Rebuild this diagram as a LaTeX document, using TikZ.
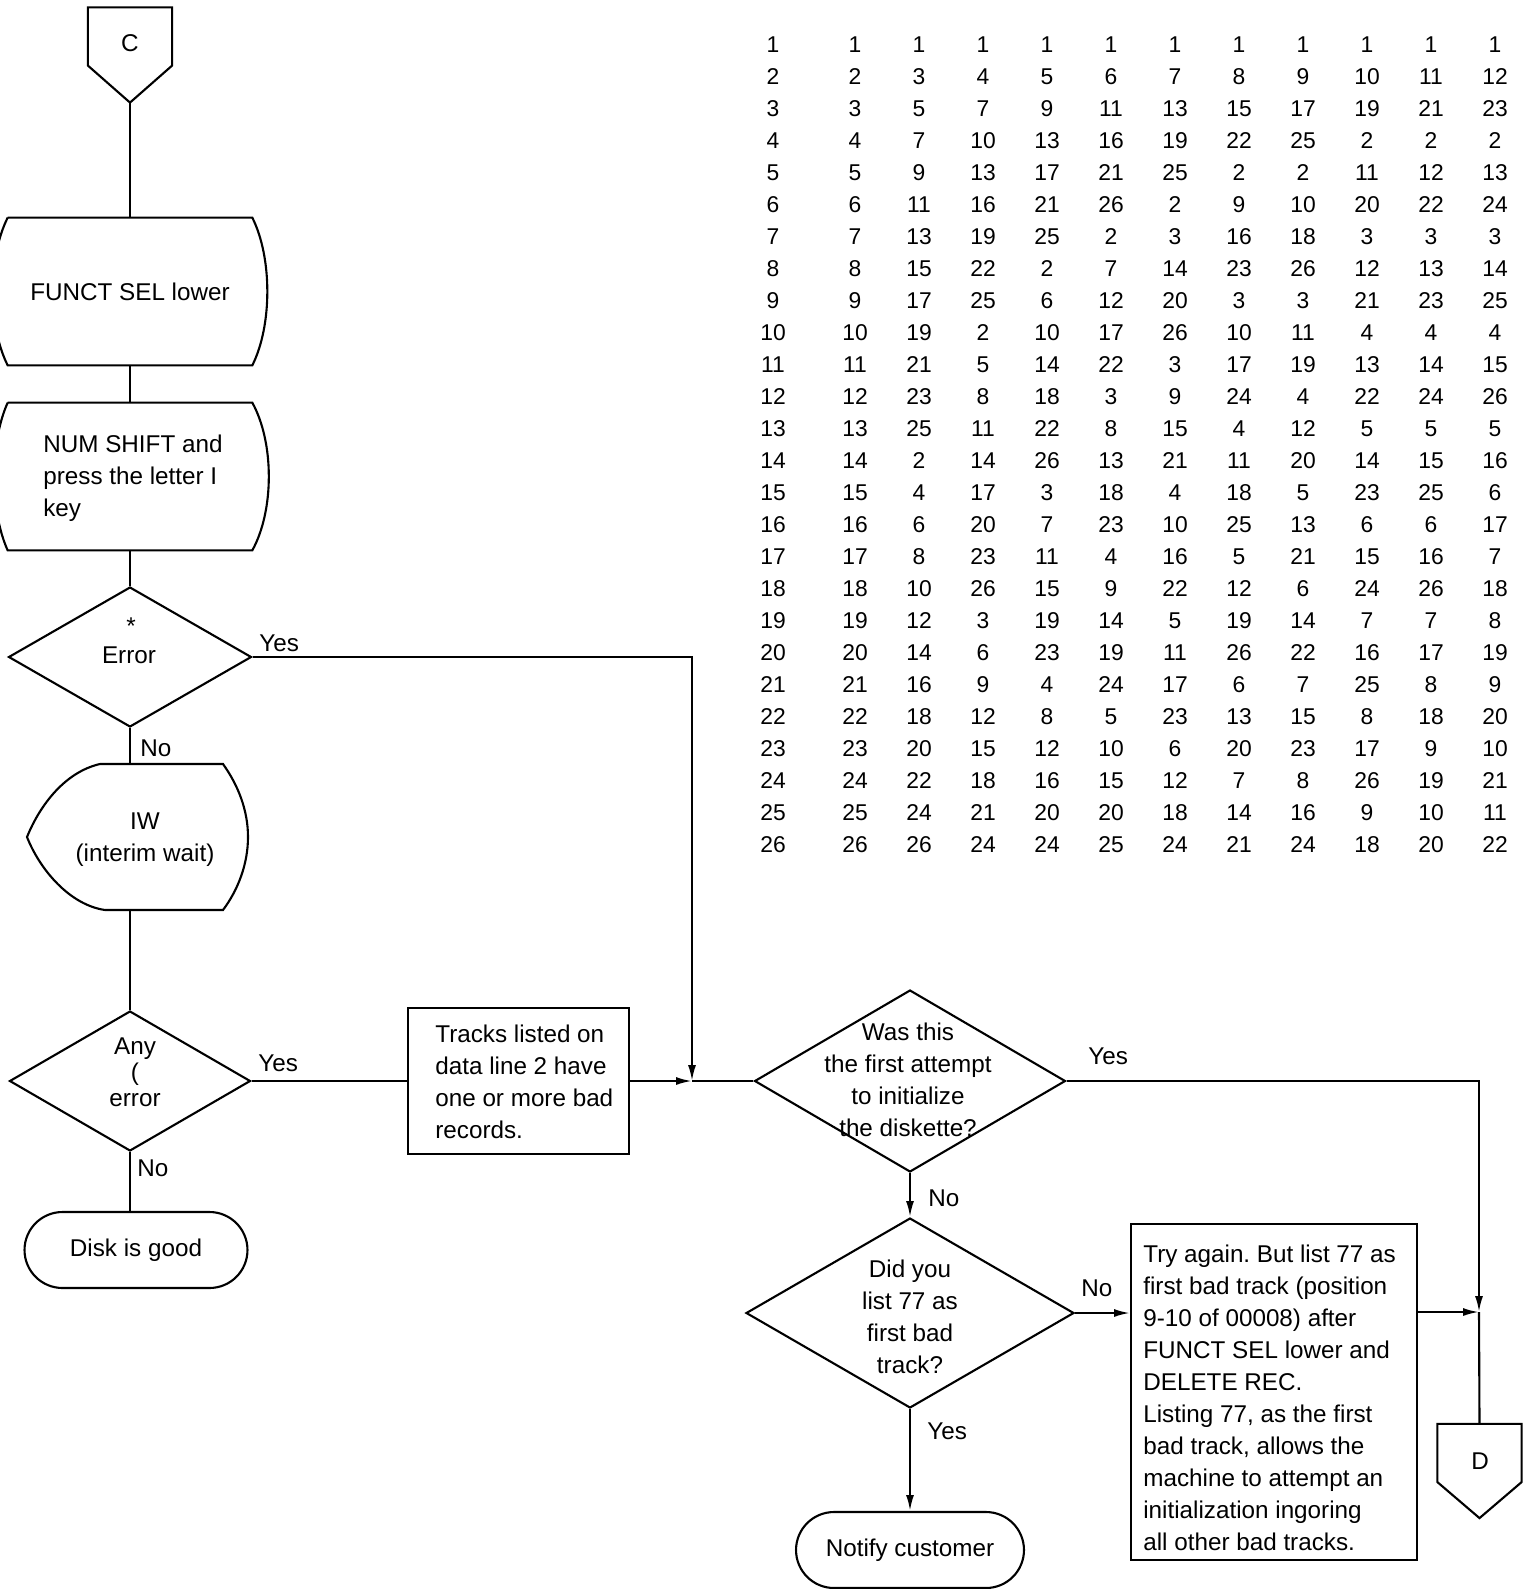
\documentclass[tikz,border=0pt]{standalone}
\usepackage{fontspec}
\setmainfont{Liberation Sans}
\usetikzlibrary{positioning, calc, shapes.geometric, arrows.meta}

\begin{document}
\frenchspacing
\begin{tikzpicture}[
        x=0.02cm, y=-0.02cm,
        every node/.style={font=\fontsize{13.8}{18.2}\selectfont},
        line/.style={line width=1.2pt},
        arr/.style={line width=1.2pt, -{Latex[length=9pt, width=4.5pt]}},
        manual/.style={inner sep=0pt, minimum width=4.88cm, minimum height=2.94cm},
        display/.style={inner sep=0pt, minimum width=3cm, minimum height=2.92cm},
        decision/.style={diamond, draw, line width=1.2pt, inner sep=0pt},
        process/.style={rectangle, draw, line width=1.2pt, inner sep=0pt},
        terminal/.style={rectangle, draw, line width=1.2pt, rounded corners=0.76cm, minimum height=1.52cm, inner sep=0pt},
        offpage/.style={inner sep=0pt, minimum width=1.67cm, minimum height=1.15cm},
        txt/.style={inner sep=0pt, align=center},
        txtl/.style={inner sep=0pt, align=left, anchor=west},
        lbl/.style={inner sep=0pt},
        num/.style={inner sep=0pt, font=\fontsize{13}{16}\selectfont}
    ]
    \useasboundingbox (0,0) rectangle (1524,1589);

    % left column
    \node[offpage] (cpage) at (130,36.5) {};
    \coordinate[below=0.74cm of cpage.south] (ctip);
    \draw[line] (cpage.north west) -- (cpage.north east) -- (cpage.south east) -- (ctip) -- (cpage.south west) -- cycle;
    \node[txt] (ctext) at (130,43) {C};

    \node[manual] (fsel) at (130,291.5) {FUNCT SEL lower};
    \draw[line] (fsel.north west) -- (fsel.north east) .. controls +(20,40) and +(20,-40) .. (fsel.south east) -- (fsel.south west) .. controls +(-20,-40) and +(-20,40) .. (fsel.north west);

    \node[manual] (numk) at (130,476.5) {};
    \draw[line] (numk.north west) -- (numk.north east) .. controls +(22,40) and +(22,-40) .. (numk.south east) -- (numk.south west) .. controls +(-18,-40) and +(-18,40) .. (numk.north west);
    \node[txtl] (numtext) at (43,478) {NUM SHIFT and\\press the letter I\\key};

    \node[decision, minimum width=4.86cm, minimum height=2.8cm] (err) at (130,657) {};
    \node[txt] (errtext) at (129,655) {Error};
    \node[txt] (errstar) at (131,626) {*};

    \node[display] (iw) at (130,837) {};
    \draw[line] (100,764) -- (223,764) .. controls (238,785) and (248,810) .. (248,837) .. controls (248,864) and (238,890) .. (223,910) -- (105,910) .. controls (70,905) and (40,870) .. (27,837) .. controls (40,805) and (65,772) .. (100,764);
    \node[txt] (iwtext) at (145,840) {IW\\(interim wait)};

    \node[decision, minimum width=4.82cm, minimum height=2.8cm] (any) at (130,1081) {};
    \node[txt, font=\fontsize{13.8}{14.8}\selectfont] (anytext) at (135,1072) {Any\\(\\error};

    \node[terminal, minimum width=4.46cm] (disk) at (136,1250) {Disk is good};

    % middle and right
    \node[process, minimum width=4.42cm, minimum height=2.92cm] (tracks) at (518.5,1081) {};
    \node[txtl] (trackstext) at (435,1082) {Tracks listed on\\data line 2 have\\one or more bad\\records.};

    \node[decision, minimum width=6.22cm, minimum height=3.64cm] (was) at (910,1081) {};
    \node[txt] (wastext) at (908,1080) {Was this\\the first attempt\\to initialize\\the diskette?};

    \node[decision, minimum width=6.56cm, minimum height=3.8cm] (did) at (910,1313) {};
    \node[txt] (didtext) at (910,1317) {Did you\\list 77 as\\first bad\\track?};

    \node[terminal, minimum width=4.56cm] (notify) at (910,1550) {Notify customer};

    \node[process, minimum width=5.72cm, minimum height=6.72cm] (try) at (1274,1392) {};
    \node[txtl] (trytext) at (1143,1398) {Try again. But list 77 as\\first bad track (position\\9-10 of 00008) after\\FUNCT SEL lower and\\DELETE REC.\\Listing 77, as the first\\bad track, allows the\\machine to attempt an\\initialization ingoring\\all other bad tracks.};

    \node[offpage] (dpage) at (1479.5,1453) {};
    \coordinate[below=0.72cm of dpage.south] (dtip);
    \draw[line] (dpage.north west) -- (dpage.north east) -- (dpage.south east) -- (dtip) -- (dpage.south west) -- cycle;
    \node[txt] (dtext) at (1480,1461) {D};

    % connectors
    \draw[line] (ctip) -- (fsel.north);
    \draw[line] (fsel.south) -- (numk.north);
    \draw[line] (numk.south) -- (err.north);
    \draw[line] (err.south) -- (iw.north);
    \draw[line] (iw.south) -- (any.north);
    \draw[line] (any.south) -- (any.south |- disk.north);

    \coordinate (jn1) at (692,1081);
    \draw[arr] (err.east) -| (jn1);
    \draw[line] (any.east) -- (tracks.west);
    \draw[arr] (tracks.east) -- (jn1);
    \draw[line] (jn1) -- (was.west);

    \coordinate (jn2) at (1479,1312);
    \draw[arr] (was.east) -| (jn2);
    \draw[line] (jn2) -- (dpage.north);
    \draw[arr] (jn2 -| try.east) -- (jn2);
    \draw[arr] (was.south) -- (did.north);
    \draw[arr] (did.east) -- (did.east -| try.west);
    \draw[arr] (did.south) -- (notify.north);

    % branch labels
    \node[lbl, above right=0.1cm and 0.13cm of err.east] (erryes) {Yes};
    \node[lbl, below right=0.22cm and 0.2cm of err.south] (errno) {No};
    \node[lbl, above right=0.18cm and 0.13cm of any.east] (anyyes) {Yes};
    \node[lbl, below right=0.14cm and 0.14cm of any.south] (anyno) {No};
    \node[lbl, above right=0.32cm and 0.43cm of was.east] (wasyes) {Yes};
    \node[lbl, below right=0.32cm and 0.36cm of was.south] (wasno) {No};
    \node[lbl, above right=0.32cm and 0.12cm of did.east] (didno) {No};
    \node[lbl, below right=0.26cm and 0.34cm of did.south] (didyes) {Yes};

    % table
    \foreach \rowvals [count=\ri] in {
        {1,1,1,1,1,1,1,1,1,1,1,1},
        {2,2,3,4,5,6,7,8,9,10,11,12},
        {3,3,5,7,9,11,13,15,17,19,21,23},
        {4,4,7,10,13,16,19,22,25,2,2,2},
        {5,5,9,13,17,21,25,2,2,11,12,13},
        {6,6,11,16,21,26,2,9,10,20,22,24},
        {7,7,13,19,25,2,3,16,18,3,3,3},
        {8,8,15,22,2,7,14,23,26,12,13,14},
        {9,9,17,25,6,12,20,3,3,21,23,25},
        {10,10,19,2,10,17,26,10,11,4,4,4},
        {11,11,21,5,14,22,3,17,19,13,14,15},
        {12,12,23,8,18,3,9,24,4,22,24,26},
        {13,13,25,11,22,8,15,4,12,5,5,5},
        {14,14,2,14,26,13,21,11,20,14,15,16},
        {15,15,4,17,3,18,4,18,5,23,25,6},
        {16,16,6,20,7,23,10,25,13,6,6,17},
        {17,17,8,23,11,4,16,5,21,15,16,7},
        {18,18,10,26,15,9,22,12,6,24,26,18},
        {19,19,12,3,19,14,5,19,14,7,7,8},
        {20,20,14,6,23,19,11,26,22,16,17,19},
        {21,21,16,9,4,24,17,6,7,25,8,9},
        {22,22,18,12,8,5,23,13,15,8,18,20},
        {23,23,20,15,12,10,6,20,23,17,9,10},
        {24,24,22,18,16,15,12,7,8,26,19,21},
        {25,25,24,21,20,20,18,14,16,9,10,11},
        {26,26,26,24,24,25,24,21,24,18,20,22}}{
        \foreach \v [count=\ci] in \rowvals {
            \node[num] (t\ri-\ci) at ({855+64*(\ci-2)-18*(\ci==1)}, {45+32*(\ri-1)}) {\v};
        }
    }
\end{tikzpicture}
\end{document}
